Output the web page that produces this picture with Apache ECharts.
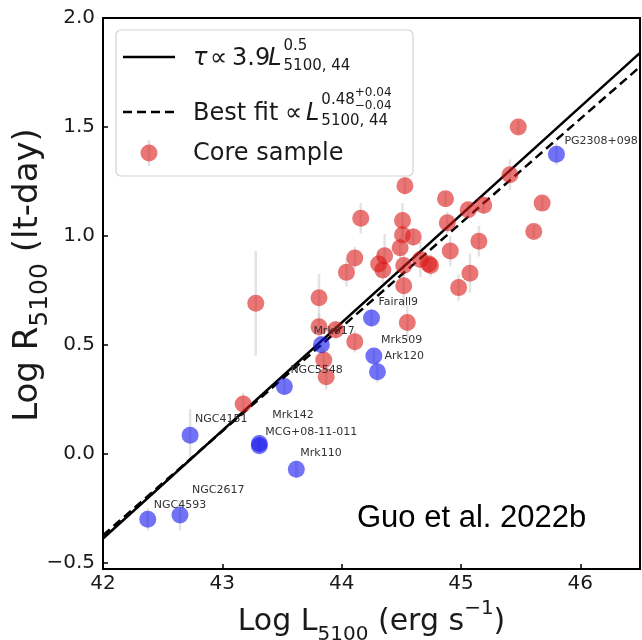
<!DOCTYPE html>
<html><head><meta charset="utf-8">
<script src="https://cdn.jsdelivr.net/npm/echarts@6.0.0/dist/echarts.min.js"></script>
<style>html,body{margin:0;padding:0;background:#fff}#c{width:642px;height:640px}</style>
</head><body><div id="c"></div>
<script>
// ---- data ----
const xTicks = [42, 43, 44, 45, 46];
const yTicks = [-0.5, 0, 0.5, 1.0, 1.5, 2.0];

const coreX = [45.48, 45.41, 45.68, 45.61, 44.53, 44.87, 45.06, 45.19, 44.16, 44.51,
               44.885, 44.51, 44.60, 45.15, 44.49, 44.91, 44.11, 44.36, 44.31, 44.345,
               44.52, 44.66, 44.73, 44.745, 44.04, 45.075, 44.98, 44.52, 43.28, 43.81,
               44.55, 43.81, 43.95, 44.11, 43.85, 43.87, 43.175];
const coreY = [1.50, 1.28, 1.15, 1.02, 1.23, 1.17, 1.12, 1.14, 1.08, 1.07,
               1.06, 1.005, 0.995, 0.975, 0.945, 0.93, 0.898, 0.908, 0.87, 0.843,
               0.864, 0.891, 0.87, 0.864, 0.832, 0.828, 0.762, 0.771, 0.69, 0.715,
               0.602, 0.582, 0.569, 0.514, 0.43, 0.353, 0.228];
const coreErr = [0.03, 0.07, 0.03, 0.03, 0.04, 0.03, 0.03, 0.04, 0.07, 0.08,
                 0.05, 0.05, 0.04, 0.07, 0.05, 0.07, 0.05, 0.10, 0.06, 0.06,
                 0.06, 0.08, 0.04, 0.05, 0.065, 0.09, 0.06, 0.10, 0.24, 0.11,
                 0.08, 0.06, 0.04, 0.05, 0.05, 0.06, 0.05];

const refNames = ['PG2308+098', 'Fairall9', 'Mrk817', 'Mrk509', 'Ark120', 'NGC5548',
                  'NGC4151', 'Mrk142', 'MCG+08-11-011', 'Mrk110', 'NGC2617', 'NGC4593'];
const refX = [45.80, 44.25, 43.83, 44.27, 44.30, 43.52, 42.73, 43.31, 43.31, 43.62, 42.645, 42.375];
const refY = [1.374, 0.623, 0.50, 0.448, 0.376, 0.308, 0.084, 0.046, 0.036, -0.072, -0.282, -0.302];
const refErr = [0.05, 0.04, 0.04, 0.03, 0.05, 0.04, 0.12, 0.04, 0.03, 0.04, 0.07, 0.05];

const tauLine = [[42, -0.39], [46.5, 1.84]];    // tau ∝ 3.9 L^0.5
const fitLine = [[42, -0.375], [46.5, 1.776]];  // best fit ∝ L^0.48

// ---- styling / layout (not data) ----
const labelOffset = {
  'PG2308+098': [8, -13], 'Fairall9': [7, -16], 'Mrk817': [-8, -14], 'Mrk509': [7, -16],
  'Ark120': [7, -16], 'NGC5548': [6, -16], 'NGC4151': [5, -16], 'Mrk142': [13, -28],
  'MCG+08-11-011': [6, -14], 'Mrk110': [4, -16], 'NGC2617': [12, -25], 'NGC4593': [6, -14]
};
const SYM = 17;
const RED = 'rgba(220,25,25,0.6)';
const BLUE = 'rgba(20,20,240,0.6)';
const FONT = '"DejaVu Sans", sans-serif';

const coreData = coreX.map((x, i) => [x, coreY[i]]);
const errData = coreX.map((x, i) => [x, coreY[i], coreErr[i]])
  .concat(refX.map((x, i) => [x, refY[i], refErr[i]]));
const refData = refNames.map((n, i) => ({
  name: n, value: [refX[i], refY[i]],
  label: { position: [SYM / 2 + labelOffset[n][0], SYM / 2 + labelOffset[n][1]] }
}));

// text measuring for the legend math
const mctx = document.createElement('canvas').getContext('2d');
function tw(t, size, italic) {
  mctx.font = (italic ? 'italic ' : '') + size + 'px "DejaVu Sans"';
  return mctx.measureText(t).width;
}
function txt(t, x, y, size, italic) {
  const font = (italic ? 'italic ' : '') + size + 'px "DejaVu Sans"';
  return {
    type: 'text', z: 101,
    style: { text: t, x: x, y: y, font: font, fill: '#1a1a1a',
             textAlign: 'left', textVerticalAlign: 'middle', align: 'left', verticalAlign: 'middle' }
  };
}

const g = [];
g.push({ type: 'rect', z: 100, shape: { x: 116, y: 30, width: 297, height: 146, r: 5 },
  style: { fill: 'rgba(255,255,255,0.85)', stroke: '#d3d3d3', lineWidth: 1.2 } });
// row 1
g.push({ type: 'line', z: 101, shape: { x1: 123, y1: 57, x2: 175, y2: 57 }, style: { stroke: '#000', lineWidth: 2.5 } });
g.push(txt('τ', 193, 58.5, 24, true));
g.push(txt('∝', 210, 58.5, 24, false));
g.push(txt('3.9', 232, 58.5, 24, false));
let x = 232 + tw('3.9', 24, false) - 2;
g.push(txt('L', x, 58.5, 24, true)); x += tw('L', 24, true) + 2;
g.push(txt('0.5', x, 46, 15, false));
g.push(txt('5100, 44', x, 66, 15, false));
// row 2
g.push({ type: 'line', z: 101, shape: { x1: 123, y1: 112, x2: 175, y2: 112 }, style: { stroke: '#000', lineWidth: 2.5, lineDash: [9, 5] } });
g.push(txt('Best fit', 193, 113.5, 24, false));
g.push(txt('∝', 285, 113.5, 24, false));
g.push(txt('L', 306, 113.5, 24, true));
x = 306 + tw('L', 24, true) + 2;
g.push(txt('0.48', x, 100, 15, false));
g.push(txt('5100, 44', x, 121, 15, false));
let x2 = x + tw('0.48', 15, false);
g.push(txt('+0.04', x2, 93, 12, false));
g.push(txt('−0.04', x2, 106, 12, false));
// row 3
g.push({ type: 'line', z: 101, shape: { x1: 149, y1: 140, x2: 149, y2: 166 }, style: { stroke: 'rgba(200,200,200,0.5)', lineWidth: 2.5 } });
g.push({ type: 'circle', z: 102, shape: { cx: 149, cy: 153, r: 8.5 }, style: { fill: RED } });
g.push(txt('Core sample', 193, 154, 24, false));
// annotation
g.push({ type: 'text', z: 101, style: { text: 'Guo et al. 2022b', x: 357, y: 518, font: '31px "Liberation Sans", Arial, sans-serif',
  fill: '#000', textAlign: 'left', textVerticalAlign: 'middle', align: 'left', verticalAlign: 'middle' } });
// y axis title (rotated)
g.push({ type: 'text', z: 101, x: 28, y: 275, rotation: Math.PI / 2,
  style: { text: '{a|Log R}{b|5100}{a| (lt-day)}', x: 0, y: 0,
           textAlign: 'center', textVerticalAlign: 'middle', align: 'center', verticalAlign: 'middle',
           rich: {
             a: { fontSize: 34, fontFamily: FONT, fill: '#1a1a1a', color: '#1a1a1a', lineHeight: 50, verticalAlign: 'middle' },
             b: { fontSize: 25, fontFamily: FONT, fill: '#1a1a1a', color: '#1a1a1a', lineHeight: 50, verticalAlign: 'bottom' }
           } } });

const chart = echarts.init(document.getElementById('c'), null, { renderer: 'canvas' });
chart.setOption({
  animation: false,
  backgroundColor: '#fff',
  grid: { left: 103, right: 2, top: 18, bottom: 71, show: true, borderColor: '#000', borderWidth: 2,
          backgroundColor: 'transparent', containLabel: false, outerBoundsMode: 'none' },
  xAxis: {
    type: 'value', min: 42, max: 46.5,
    name: '{a|Log L}{b|5100}{a| (erg s}{c|−1}{a|)}',
    nameLocation: 'middle', nameGap: 27,
    nameTextStyle: { rich: {
      a: { fontSize: 30, fontFamily: FONT, color: '#1a1a1a', lineHeight: 46, verticalAlign: 'middle' },
      b: { fontSize: 20, fontFamily: FONT, color: '#1a1a1a', lineHeight: 46, verticalAlign: 'bottom' },
      c: { fontSize: 20, fontFamily: FONT, color: '#1a1a1a', lineHeight: 46, verticalAlign: 'top' }
    } },
    axisLine: { show: true, onZero: false, lineStyle: { color: '#000', width: 2 } },
    axisTick: { show: true, inside: true, length: 5, customValues: xTicks, lineStyle: { color: '#000', width: 1.5 } },
    axisLabel: { show: true, fontSize: 20, fontFamily: FONT, color: '#1a1a1a', margin: 5, customValues: xTicks },
    splitLine: { show: false }
  },
  yAxis: {
    type: 'value', min: -0.53, max: 2.0,
    axisLine: { show: true, onZero: false, lineStyle: { color: '#000', width: 2 } },
    axisTick: { show: true, inside: true, length: 5, customValues: yTicks, lineStyle: { color: '#000', width: 1.5 } },
    axisLabel: { show: true, fontSize: 20, fontFamily: FONT, color: '#1a1a1a', margin: 8, customValues: yTicks,
                 formatter: v => (v < 0 ? '−' : '') + Math.abs(v).toFixed(1) },
    splitLine: { show: false }
  },
  series: [
    {
      type: 'custom', z: 1, silent: true, data: errData,
      renderItem: function (params, api) {
        const p1 = api.coord([api.value(0), api.value(1) - api.value(2)]);
        const p2 = api.coord([api.value(0), api.value(1) + api.value(2)]);
        return { type: 'line', shape: { x1: p1[0], y1: p1[1], x2: p2[0], y2: p2[1] },
                 style: { stroke: 'rgba(200,200,200,0.5)', lineWidth: 2.5 } };
      }
    },
    { type: 'line', z: 2, data: tauLine, showSymbol: false, symbol: 'none', silent: true,
      lineStyle: { color: '#000', width: 2.5 } },
    { type: 'line', z: 2, data: fitLine, showSymbol: false, symbol: 'none', silent: true,
      lineStyle: { color: '#000', width: 2.5, type: [9, 5] } },
    { type: 'scatter', z: 3, data: coreData, symbolSize: SYM, itemStyle: { color: RED, opacity: 1 } },
    { type: 'scatter', z: 4, data: refData, symbolSize: SYM, itemStyle: { color: BLUE, opacity: 1 },
      label: { show: true, align: 'left', verticalAlign: 'middle',
               formatter: '{b}', fontSize: 11, fontFamily: FONT, color: '#333' } }
  ],
  graphic: g
});
</script>
</body></html>
